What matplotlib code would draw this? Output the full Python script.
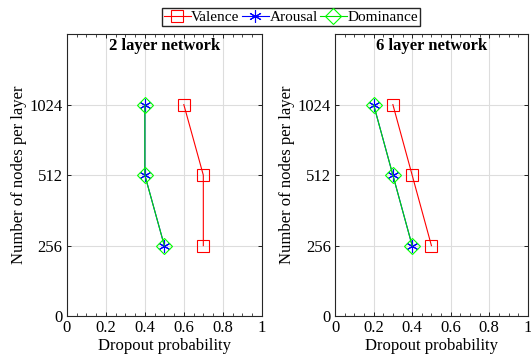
import matplotlib.pyplot as plt
from matplotlib.ticker import MultipleLocator
import numpy as np

plt.rcParams['font.family'] = ['Liberation Serif', 'DejaVu Serif']

node_labels = ['0', '256', '512', '1024']
nodes = [1024, 512, 256]

titles = ['2 layer network', '6 layer network']
valence = [[0.6, 0.7, 0.7], [0.3, 0.4, 0.5]]
arousal = [[0.4, 0.4, 0.5], [0.2, 0.3, 0.4]]
dominance = [[0.4, 0.4, 0.5], [0.2, 0.3, 0.4]]

# nodes are placed on an evenly spaced (categorical) axis
ypos = [node_labels.index(str(n)) for n in nodes]

fig = plt.figure(figsize=(5.31, 3.63), dpi=100)
axes = [fig.add_axes([0.126, 0.129, 0.367, 0.777]),
        fig.add_axes([0.631, 0.129, 0.363, 0.777])]

asterisk = (6, 2, 0)
for i, ax in enumerate(axes):
    ax.plot(valence[i], ypos, color='red', lw=0.8, marker='s', ms=8,
            mfc='none', mec='red', mew=0.8, label='Valence')
    ax.plot(arousal[i], ypos, color='blue', lw=0.8, marker=asterisk, ms=9,
            mec='blue', mew=0.8, label='Arousal')
    ax.plot(dominance[i], ypos, color='#00dd00', lw=0.8, marker='D', ms=8,
            mfc='none', mec='#00ff00', mew=0.8, label='Dominance')
    ax.set_xlim(0, 1)
    ax.set_ylim(0, 4)
    ax.set_xticks(np.arange(0, 1.01, 0.2))
    ax.set_xticklabels(['0', '0.2', '0.4', '0.6', '0.8', '1'])
    ax.xaxis.set_minor_locator(MultipleLocator(0.05))
    ax.set_yticks(range(len(node_labels)))
    ax.set_yticklabels(node_labels)
    ax.tick_params(direction='in', top=True, right=True, labelsize=12,
                   length=3, width=0.6, pad=3)
    ax.tick_params(which='minor', direction='in', top=True, length=2,
                   width=0.5)
    ax.grid(True, color='#dddddd', lw=0.8)
    ax.set_axisbelow(True)
    for s in ax.spines.values():
        s.set_linewidth(0.8)
        s.set_color('#262626')
    ax.set_xlabel('Dropout probability', fontsize=12, labelpad=1)
    ax.set_ylabel('Number of nodes per layer', fontsize=12, labelpad=2)
    ax.text(0.5, 0.985, titles[i], transform=ax.transAxes, ha='center',
            va='top', fontsize=12, fontweight='bold')

handles, labels = axes[0].get_legend_handles_labels()
fig.legend(handles, labels, loc='center', bbox_to_anchor=(0.548, 0.953),
           ncol=3, fontsize=11, frameon=True, fancybox=False,
           edgecolor='#262626', framealpha=1, borderpad=0.15,
           handlelength=1.75, handletextpad=0.05, columnspacing=0.15,
           borderaxespad=0)

fig.savefig('out.png', dpi=100)
